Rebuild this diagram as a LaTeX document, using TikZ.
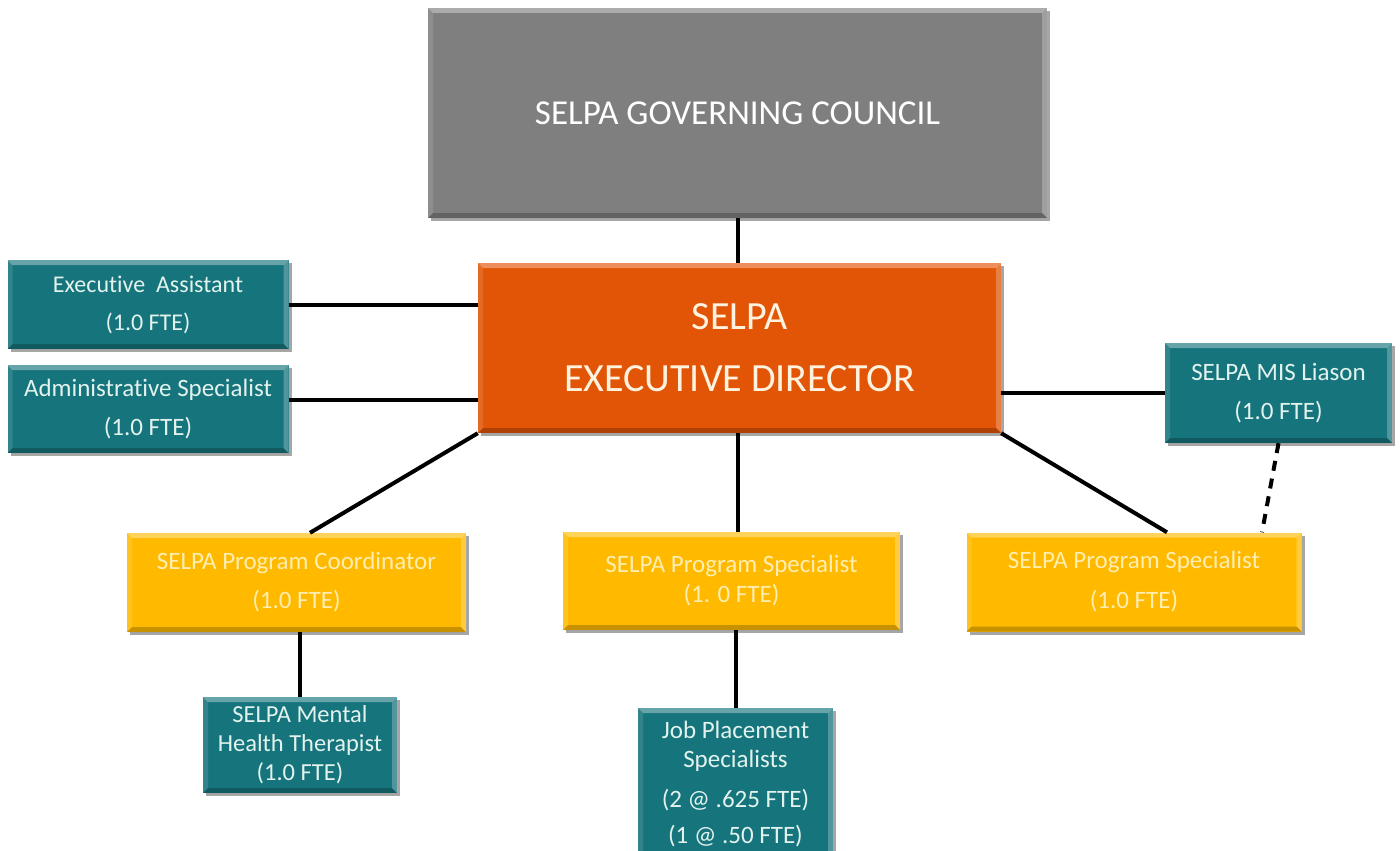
\documentclass[tikz,border=0pt]{standalone}
\usepackage{fontspec}
\setmainfont{Carlito}[Ligatures=NoCommon]
\usetikzlibrary{shadows}
\definecolor{tealc}{RGB}{22,116,124}
\definecolor{tealtxt}{RGB}{226,243,238}
\definecolor{yelc}{RGB}{255,186,0}
\definecolor{yeltxt}{RGB}{255,238,176}
\definecolor{orgc}{RGB}{226,84,6}
\definecolor{orgtxt}{RGB}{255,242,222}
\definecolor{grayc}{RGB}{127,127,127}
\tikzset{
  bevel/.style={path picture={
    \coordinate (bnw) at (path picture bounding box.north west);
    \coordinate (bne) at (path picture bounding box.north east);
    \coordinate (bsw) at (path picture bounding box.south west);
    \coordinate (bse) at (path picture bounding box.south east);
    \fill[white,opacity=.35] (bnw) -- (bne) -- ([shift={(-5pt,-5pt)}]bne) -- ([shift={(5pt,-5pt)}]bnw) -- cycle;
    \fill[white,opacity=.12] (bnw) -- (bsw) -- ([shift={(5pt,5pt)}]bsw) -- ([shift={(5pt,-5pt)}]bnw) -- cycle;
    \fill[white,opacity=.25] (bne) -- (bse) -- ([shift={(-5pt,5pt)}]bse) -- ([shift={(-5pt,-5pt)}]bne) -- cycle;
    \fill[black,opacity=.22] (bsw) -- (bse) -- ([shift={(-5pt,5pt)}]bse) -- ([shift={(5pt,5pt)}]bsw) -- cycle;
  }},
  orgbox/.style={rectangle, inner sep=0pt, align=center, bevel,
    drop shadow={shadow xshift=3pt, shadow yshift=-3pt, opacity=0.35, fill=black}},
  tealbox/.style={orgbox, fill=tealc, text=tealtxt},
  yelbox/.style={orgbox, fill=yelc, text=yeltxt},
  conn/.style={line width=4pt, black},
  dconn/.style={line width=4pt, black, dash pattern=on 10pt off 8pt},
}
\begin{document}
\begin{tikzpicture}[x=1pt,y=-1pt]
\useasboundingbox[fill=white] (0,0) rectangle (1400,851);

\node[orgbox, fill=grayc, text=white, minimum width=619pt, minimum height=210pt,
  font=\fontsize{35}{40}\selectfont] (council) at (737.5,113) {SELPA GOVERNING COUNCIL};

\node[orgbox, fill=orgc, text=orgtxt, minimum width=523pt, minimum height=170pt,
  font=\fontsize{40}{62}\selectfont] (director) at (739.5,348) {SELPA\\EXECUTIVE DIRECTOR};

\node[tealbox, minimum width=281pt, minimum height=89pt,
  font=\fontsize{24}{38}\selectfont] (ea) at (148,304.5) {Executive\ \ Assistant\\(1.0 FTE)};
\node[tealbox, minimum width=281pt, minimum height=88pt,
  font=\fontsize{25}{39}\selectfont] (as) at (148,409) {Administrative Specialist\\(1.0 FTE)};
\node[tealbox, minimum width=227pt, minimum height=100pt,
  font=\fontsize{25}{39}\selectfont] (mis) at (1278.5,393) {SELPA MIS Liason\\(1.0 FTE)};

\node[yelbox, minimum width=339pt, minimum height=99pt,
  font=\fontsize{25}{39}\selectfont] (pc) at (296.5,582.5) {SELPA Program Coordinator\\(1.0 FTE)};
\node[yelbox, minimum width=337pt, minimum height=98pt,
  font=\fontsize{25}{30}\selectfont] (ps1) at (731.5,581) {SELPA Program Specialist\\(1. 0 FTE)};
\node[yelbox, minimum width=335pt, minimum height=99pt,
  font=\fontsize{25}{40}\selectfont] (ps2) at (1134,582) {SELPA Program Specialist\\(1.0 FTE)};

\node[tealbox, minimum width=194pt, minimum height=96pt,
  font=\fontsize{24.5}{29}\selectfont] (mh) at (300,745) {SELPA Mental\\Health Therapist\\(1.0 FTE)};
\node[tealbox, minimum width=195pt, minimum height=152pt,
  font=\fontsize{25}{29}\selectfont] (jp) at (735.5,784) {Job Placement\\Specialists\\[11pt](2 @ .625 FTE)\\[7pt](1 @ .50 FTE)};

\draw[conn] (council.south) -- (council.south |- director.north);
\draw[conn] (ea.east) -- (ea.east -| director.west);
\draw[conn] ([yshift=9pt]as.east) -- ([yshift=9pt]as.east -| director.west);
\draw[conn] (mis.west) -- (mis.west -| director.east);
\draw[conn] (director.south west) -- ([xshift=13.5pt]pc.north);
\draw[conn] (council.south |- director.south) -- (council.south |- ps1.north);
\draw[conn] (director.south east) -- ([xshift=33pt]ps2.north);
\draw[dconn] (mis.south) -- ([xshift=128pt]ps2.north);
\draw[conn] (mh.north |- pc.south) -- (mh.north);
\draw[conn] (jp.north |- ps1.south) -- (jp.north);
\end{tikzpicture}
\end{document}
